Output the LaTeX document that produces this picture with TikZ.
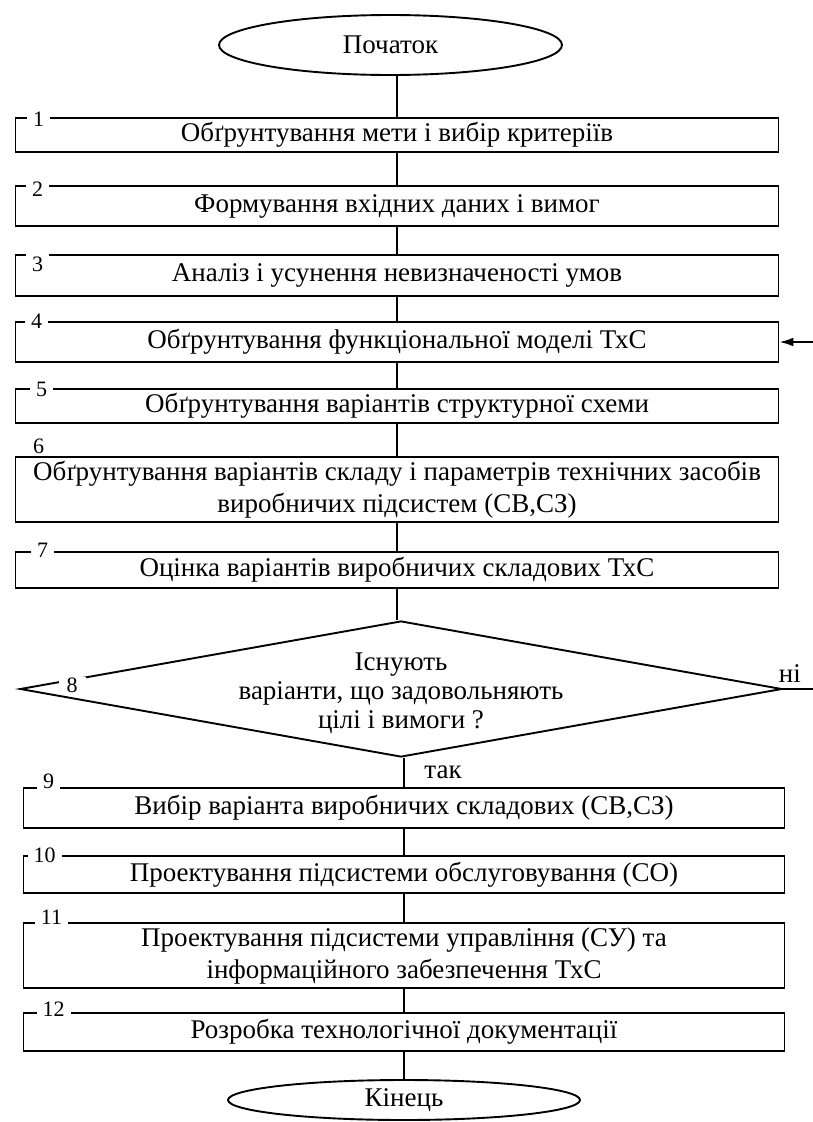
\documentclass[tikz,border=0pt]{standalone}
\usepackage{fontspec}
\setmainfont{Liberation Serif}
\usetikzlibrary{positioning,shapes.geometric,arrows.meta}

\begin{document}
\begin{tikzpicture}[x=1pt, y=1pt, on grid=true, line width=1.9pt,
        font=\fontsize{27}{32}\selectfont,
        block/.style = {draw, rectangle, minimum width=763pt, inner sep=0pt, align=center},
        lowblock/.style = {block, minimum width=761pt},
        term/.style = {draw, ellipse, inner sep=0pt},
        cond/.style = {draw, diamond, inner sep=0pt, minimum width=762pt, minimum height=136pt},
        num/.style = {fill=white, inner xsep=6pt, inner ysep=3pt, font=\fontsize{22}{24}\selectfont}]
        \useasboundingbox (0,0) rectangle (813,-1122);

        \node[block,minimum height=34pt] (b1) at (397,-135) {Обґрунтування мети і вибір критеріїв};
        \node[term,minimum width=343pt,minimum height=60pt] (start) [above=90pt of b1,xshift=-6.5pt] {Початок};
        \node[block,minimum height=40pt] (b2) [below=71pt of b1] {Формування вхідних даних і вимог};
        \node[block,minimum height=41pt] (b3) [below=69.5pt of b2] {Аналіз і усунення невизначеності умов};
        \node[block,minimum height=40pt] (b4) [below=66.5pt of b3] {Обґрунтування функціональної моделі ТхС};
        \node[block,minimum height=34pt] (b5) [below=64pt of b4] {Обґрунтування варіантів структурної схеми};
        \node[block,minimum height=65pt] (b6) [below=83.5pt of b5] {Обґрунтування варіантів складу і параметрів технічних засобів\\виробничих підсистем (СВ,СЗ)};
        \node[block,minimum height=36pt] (b7) [below=80.5pt of b6] {Оцінка варіантів виробничих складових ТхС};
        \node[cond] (d8) [below=119pt of b7,xshift=4pt] {};
        \node[align=center,font=\fontsize{27}{29}\selectfont] (t8) [below=4pt of d8] {Існують\\варіанти, що задовольняють\\цілі і вимоги ?};
        \node[lowblock,minimum height=40pt] (b9) [below=119pt of d8,xshift=3pt] {Вибір варіанта виробничих складових (СВ,СЗ)};
        \node[lowblock,minimum height=37pt] (b10) [below=66.5pt of b9] {Проектування підсистеми обслуговування (СО)};
        \node[lowblock,minimum height=65pt] (b11) [below=81pt of b10] {Проектування підсистеми управління (СУ) та\\інформаційного забезпечення ТхС};
        \node[lowblock,minimum height=38pt] (b12) [below=76.5pt of b11] {Розробка технологічної документації};
        \node[term,minimum width=352pt,minimum height=40pt] (end) [below=68pt of b12] {Кінець};

        % step numbers on the top borders
        \node[num] (n1) at ([xshift=24pt,yshift=-2pt]b1.north west) {1};
        \node[num] (n2) at ([xshift=23pt,yshift=-4pt]b2.north west) {2};
        \node[num] (n3) at ([xshift=23pt,yshift=-10pt]b3.north west) {3};
        \node[num] (n4) at ([xshift=22pt]b4.north west) {4};
        \node[num] (n5) at ([xshift=27pt,yshift=-1pt]b5.north west) {5};
        \node[num,fill=none] (n6) at ([xshift=24pt,yshift=10pt]b6.north west) {6};
        \node[num] (n7) at ([xshift=28pt,yshift=1pt]b7.north west) {7};
        \node[num,inner ysep=1pt,inner xsep=8pt] (n8) at ([xshift=53pt,yshift=4pt]d8.west) {8};
        \node[num] (n9) at ([xshift=26pt,yshift=6pt]b9.north west) {9};
        \node[num] (n10) at ([xshift=22pt]b10.north west) {10};
        \node[num] (n11) at ([xshift=29pt,yshift=5pt]b11.north west) {11};
        \node[num] (n12) at ([xshift=31pt,yshift=3pt]b12.north west) {12};

        \coordinate (in4) at ([xshift=35pt]b4.east);
        \coordinate (out8) at ([xshift=31pt]d8.east);
        \node (no) at ([xshift=-24pt,yshift=15pt]out8) {ні};
        \node (yes) at ([xshift=42pt,yshift=-14pt]d8.south) {так};

        \draw (b1 |- start.south) -- (b1);
        \draw (b1) -- (b2);
        \draw (b2) -- (b3);
        \draw (b3) -- (b4);
        \draw (b4) -- (b5);
        \draw (b5) -- (b6);
        \draw (b6) -- (b7);
        \draw (b7) -- (b7 |- d8.north);
        \draw (b9 |- d8.south) -- (b9);
        \draw (b9) -- (b10);
        \draw (b10) -- (b11);
        \draw (b11) -- (b12);
        \draw (b12) -- (end);
        \draw[-{Latex[length=14pt,width=9pt]}] (in4) -- (b4.east);
        \draw (d8.east) -- (out8);
\end{tikzpicture}
\end{document}
